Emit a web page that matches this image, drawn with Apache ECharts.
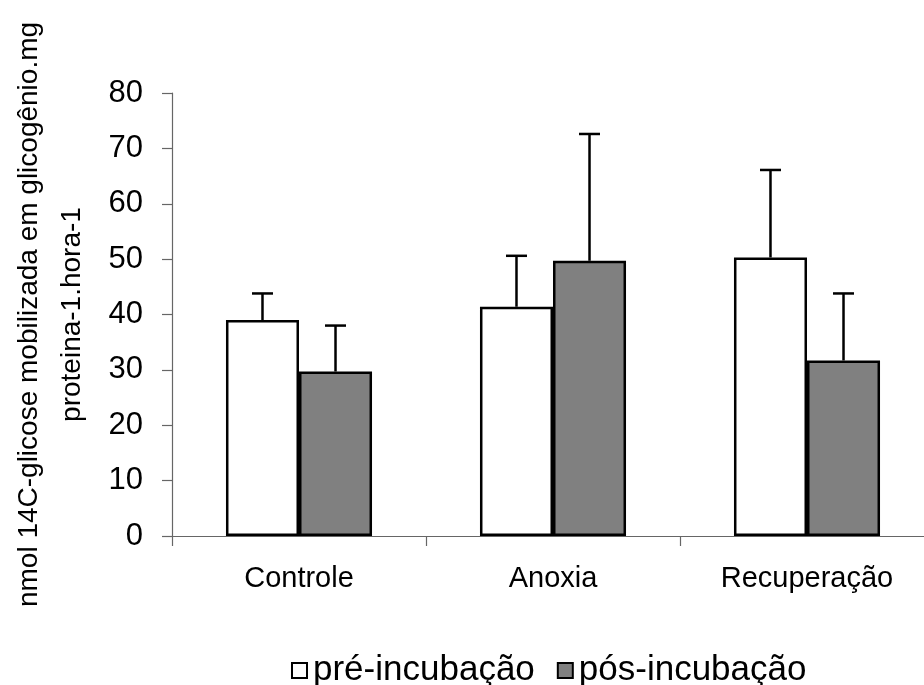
<!DOCTYPE html>
<html>
<head>
<meta charset="utf-8">
<script src="https://cdn.jsdelivr.net/npm/echarts@6/dist/echarts.min.js"></script>
<style>
  html, body { margin: 0; padding: 0; background: #fff; }
  #chart { width: 924px; height: 685px; }
</style>
</head>
<body>
<div id="chart"></div>
<script>
// Groups and series
const categories = ['Controle', 'Anoxia', 'Recuperação'];
const preMeans = [39.0, 41.4, 50.3];   // pré-incubação
const preErr = [4.8, 9.2, 15.8];
const postMeans = [29.7, 49.7, 31.7];  // pós-incubação
const postErr = [8.3, 22.9, 12.1];
const seriesNames = ['pré-incubação', 'pós-incubação'];
const yTicks = { min: 0, max: 80, interval: 10 };

const FONT = '"Liberation Sans", Arial, sans-serif';
const CATEGORY_GAP = 0.425;

const chart = echarts.init(document.getElementById('chart'));

// Upper error whisker with a cap, offset to the centre of its bar in the group
function errorBar(side) {
  return function (params, api) {
    const idx = api.value(0);
    const mean = api.value(1);
    const err = api.value(2);
    const band = api.size([1, 0])[0];
    const barW = band * (1 - CATEGORY_GAP) / 2;
    const base = api.coord([idx, mean]);
    const top = api.coord([idx, mean + err]);
    const x = base[0] + side * barW / 2;
    const cap = 10.5;
    const style = { stroke: '#000', lineWidth: 2.5 };
    return {
      type: 'group',
      children: [
        { type: 'line', shape: { x1: x, y1: base[1], x2: x, y2: top[1] }, style: style },
        { type: 'line', shape: { x1: x - cap, y1: top[1], x2: x + cap, y2: top[1] }, style: style }
      ]
    };
  };
}

chart.setOption({
  animation: false,
  backgroundColor: '#fff',
  grid: {
    left: 172, top: 93, width: 762, height: 443,
    containLabel: false,
    outerBoundsMode: 'none'
  },
  legend: {
    data: seriesNames,
    left: 286,
    top: 648,
    icon: 'rect',
    itemWidth: 15,
    itemHeight: 15,
    itemGap: 22,
    textStyle: { fontFamily: FONT, fontSize: 35, color: '#000', padding: [0, 0, 0, 1] }
  },
  xAxis: {
    type: 'category',
    data: categories,
    axisLine: { lineStyle: { color: '#666', width: 1.2 } },
    axisTick: { show: true, length: 10, lineStyle: { color: '#666', width: 1.2 } },
    axisLabel: { fontFamily: FONT, fontSize: 29, color: '#000', margin: 28 },
    splitLine: { show: false }
  },
  yAxis: {
    type: 'value',
    min: yTicks.min,
    max: yTicks.max,
    interval: yTicks.interval,
    name: 'nmol 14C-glicose mobilizada em glicogênio.mg\nproteina-1.hora-1',
    nameLocation: 'middle',
    nameGap: 78,
    nameTextStyle: { fontFamily: FONT, fontSize: 28, color: '#000', lineHeight: 43, align: 'center' },
    axisLine: { show: true, lineStyle: { color: '#666', width: 1.2 } },
    axisTick: { show: true, length: 10, lineStyle: { color: '#666', width: 1.2 } },
    axisLabel: { fontFamily: FONT, fontSize: 31, color: '#000', margin: 29 },
    splitLine: { show: false }
  },
  series: [
    {
      name: seriesNames[0],
      type: 'bar',
      data: preMeans,
      barGap: '0%',
      barCategoryGap: (CATEGORY_GAP * 100) + '%',
      itemStyle: { color: '#ffffff', borderColor: '#000', borderWidth: 2.5 }
    },
    {
      name: seriesNames[1],
      type: 'bar',
      data: postMeans,
      barGap: '0%',
      barCategoryGap: (CATEGORY_GAP * 100) + '%',
      itemStyle: { color: '#808080', borderColor: '#000', borderWidth: 2.5 }
    },
    {
      type: 'custom',
      renderItem: errorBar(-1),
      data: preMeans.map((m, i) => [i, m, preErr[i]]),
      encode: { x: 0, y: 1 },
      z: 10,
      silent: true
    },
    {
      type: 'custom',
      renderItem: errorBar(1),
      data: postMeans.map((m, i) => [i, m, postErr[i]]),
      encode: { x: 0, y: 1 },
      z: 10,
      silent: true
    }
  ]
});
</script>
</body>
</html>
